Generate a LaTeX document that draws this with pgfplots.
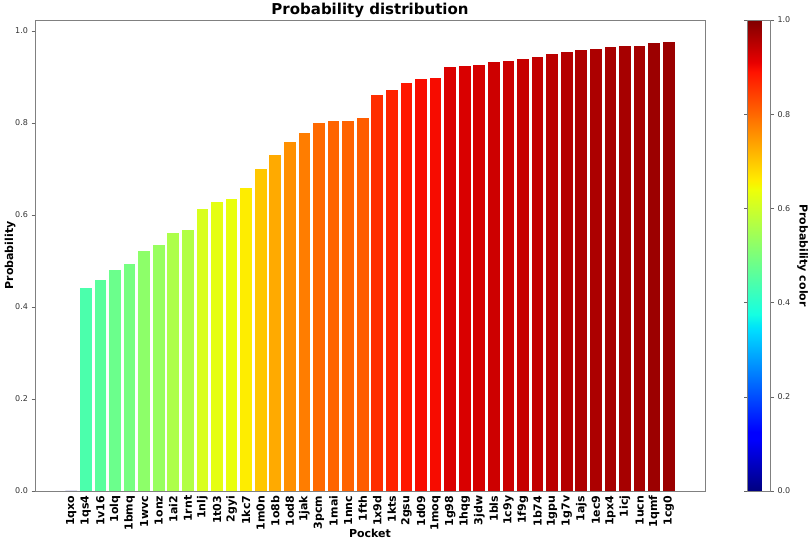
\documentclass[border=0pt]{standalone}
\usepackage{pgfplots}
\pgfplotsset{compat=1.18}
\usepackage{fontspec}
\setmainfont{DejaVu Sans}
\pgfplotsset{colormap={mpljet}{rgb(0pt)=(0,0,0.5); rgb(110pt)=(0,0,1); rgb(125pt)=(0,0,1); rgb(340pt)=(0,0.86,1); rgb(350pt)=(0,0.9,0.968); rgb(375pt)=(0.081,1,0.887); rgb(640pt)=(0.935,1,0.032); rgb(650pt)=(0.968,0.963,0); rgb(660pt)=(1,0.926,0); rgb(890pt)=(1,0.074,0); rgb(910pt)=(0.909,0,0); rgb(1000pt)=(0.5,0,0)}}
\pgfplotsset{pbar/.style={ybar, bar width=0.8, bar shift=0pt, draw=none, color of colormap={#1}, fill}}
\begin{document}
\begin{tikzpicture}
\useasboundingbox (0,0) rectangle (809pt,541pt);
\begin{axis}[
  at={(35pt,50pt)}, anchor=south west,
  scale only axis, width=670pt, height=471pt,
  xmin=-2.49, xmax=43.49, ymin=0, ymax=1.024,
  colormap name=mpljet,
  point meta min=0, point meta max=1,
  axis line style={gray},
  tick align=outside,
  major tick length=3.5pt,
  ytick={0,0.2,0.4,0.6,0.8,1.0},
  ytick pos=left,
  ytick style={gray!80!black},
  xtick style={draw=none},
  /pgf/number format/assume math mode=true,
  yticklabel style={font=\fontsize{8}{9}\selectfont, text=black!80, /pgf/number format/.cd, fixed, fixed zerofill, precision=1},
  xtick={0,...,41},
  xticklabels={1qxo,1qs4,1v16,1olq,1bmq,1wvc,1onz,1ai2,1rnt,1nlj,1t03,2gyi,1kc7,1m0n,1o8b,1od8,1jak,3pcm,1mai,1nnc,1fth,1x9d,1kts,2gsu,1d09,1moq,1g98,1hqg,3jdw,1bls,1c9y,1f9g,1b74,1gpu,1g7v,1ajs,1ec9,1px4,1icj,1ucn,1qmf,1cg0},
  xticklabel style={rotate=90, anchor=east, inner sep=1pt, font=\bfseries\fontsize{11}{13}\selectfont},
  title={Probability distribution},
  every axis title/.style={at={(axis description cs:0.5,1)}, anchor=base, yshift=5pt, font=\bfseries\fontsize{15}{17}\selectfont},
  xlabel={Pocket},
  every axis x label/.style={at={(axis description cs:0.5,-0.0892)}, anchor=center, font=\bfseries\fontsize{11}{13}\selectfont},
  ylabel={Probability},
  every axis y label/.style={at={(axis description cs:-0.0373,0.5)}, rotate=90, anchor=center, font=\bfseries\fontsize{11}{13}\selectfont},
  colorbar,
  colorbar style={
    scale only axis, width=23pt, height=471pt,
    at={(parent axis.north east)}, anchor=north west, xshift=34pt,
    axis line style={gray},
    ytick={0,0.2,0.4,0.6,0.8,1.0},
    yticklabel pos=right,
    tick align=outside, major tick length=3.5pt,
    ytick style={gray!80!black},
    /pgf/number format/assume math mode=true,
    yticklabel style={font=\fontsize{8}{9}\selectfont, text=black!80, /pgf/number format/.cd, fixed, fixed zerofill, precision=1},
    ylabel={Probability color},
    every axis y label/.style={at={(axis description cs:2.4,0.5)}, rotate=-90, anchor=center, font=\bfseries\fontsize{11}{13}\selectfont},
  },
]
\addplot[pbar=0] coordinates {(0,0)};
\addplot[pbar=441] coordinates {(1,0.441)};
\addplot[pbar=459] coordinates {(2,0.459)};
\addplot[pbar=480] coordinates {(3,0.480)};
\addplot[pbar=493] coordinates {(4,0.493)};
\addplot[pbar=522] coordinates {(5,0.522)};
\addplot[pbar=535] coordinates {(6,0.535)};
\addplot[pbar=560] coordinates {(7,0.560)};
\addplot[pbar=567] coordinates {(8,0.567)};
\addplot[pbar=614] coordinates {(9,0.614)};
\addplot[pbar=628] coordinates {(10,0.628)};
\addplot[pbar=634] coordinates {(11,0.634)};
\addplot[pbar=659] coordinates {(12,0.659)};
\addplot[pbar=699] coordinates {(13,0.699)};
\addplot[pbar=730] coordinates {(14,0.730)};
\addplot[pbar=758] coordinates {(15,0.758)};
\addplot[pbar=778] coordinates {(16,0.778)};
\addplot[pbar=799] coordinates {(17,0.799)};
\addplot[pbar=804] coordinates {(18,0.804)};
\addplot[pbar=805] coordinates {(19,0.805)};
\addplot[pbar=812] coordinates {(20,0.812)};
\addplot[pbar=861] coordinates {(21,0.861)};
\addplot[pbar=872] coordinates {(22,0.872)};
\addplot[pbar=886] coordinates {(23,0.886)};
\addplot[pbar=896] coordinates {(24,0.896)};
\addplot[pbar=897] coordinates {(25,0.897)};
\addplot[pbar=922] coordinates {(26,0.922)};
\addplot[pbar=923] coordinates {(27,0.923)};
\addplot[pbar=926] coordinates {(28,0.926)};
\addplot[pbar=933] coordinates {(29,0.933)};
\addplot[pbar=935] coordinates {(30,0.935)};
\addplot[pbar=939] coordinates {(31,0.939)};
\addplot[pbar=943] coordinates {(32,0.943)};
\addplot[pbar=949] coordinates {(33,0.949)};
\addplot[pbar=954] coordinates {(34,0.954)};
\addplot[pbar=959] coordinates {(35,0.959)};
\addplot[pbar=962] coordinates {(36,0.962)};
\addplot[pbar=965] coordinates {(37,0.965)};
\addplot[pbar=967] coordinates {(38,0.967)};
\addplot[pbar=967] coordinates {(39,0.967)};
\addplot[pbar=975] coordinates {(40,0.975)};
\addplot[pbar=976] coordinates {(41,0.976)};
\end{axis}
\end{tikzpicture}
\end{document}
